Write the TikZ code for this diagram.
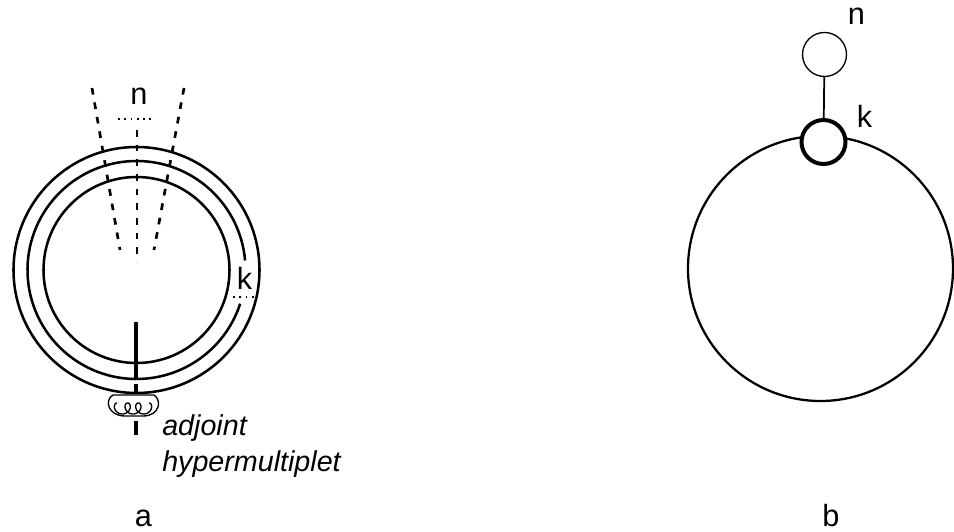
\documentclass[tikz,border=0pt]{standalone}
\usepackage{fontspec}
\setmainfont{Liberation Sans}
\usetikzlibrary{calc}
\begin{document}
\begin{tikzpicture}[x=0.75pt,y=0.75pt,
  ring/.style={line width=1.9pt},
  dashln/.style={line width=2pt, dash pattern=on 5pt off 6pt},
  dotln/.style={line width=1.6pt, dash pattern=on 1.3pt off 3.4pt},
  lbl/.style={font=\fontsize{23}{27}\selectfont, inner sep=0pt, anchor=base},
  itl/.style={font=\fontsize{21.5}{25}\selectfont\itshape, inner sep=0pt, anchor=base west},
  thin/.style={line width=1pt},
  smallcirc/.style={circle, draw, fill=white, minimum size=33pt, inner sep=0pt}]
\useasboundingbox (0,0) rectangle (954,532);
% ---------- figure a ----------
\coordinate (c) at (136.5,262);
\draw[ring] (c) circle[radius=123];
\draw[ring] (c) circle[radius=93];
\draw[ring] ($(c)+(5:109)$) arc[start angle=5, end angle=342, radius=109];
% dashed lines
\coordinate (dc1) at (137,402); \coordinate (dc2) at (137,270);
\coordinate (dl1) at (92,444);  \coordinate (dl2) at (120,282);
\coordinate (dr1) at (184,444); \coordinate (dr2) at (154,282);
\draw[dashln] (dc1) -- (dc2);
\draw[dashln] (dl1) -- (dl2);
\draw[dashln] (dr1) -- (dr2);
% n label and dotted line
\node[lbl] (na) at (139,427) {n};
\coordinate (dn1) at (118,413); \coordinate (dn2) at (155,413);
\draw[dotln] (dn1) -- (dn2);
% k label and dotted line
\node[lbl] (ka) at (244.5,242) {k};
\coordinate (dk1) at (233,235); \coordinate (dk2) at (255,235);
\draw[dotln] (dk1) -- (dk2);
% vertical line
\coordinate (v1) at (136,210); \coordinate (v2) at (136,154);
\coordinate (v3) at (136,148); \coordinate (v4) at (136,139);
\coordinate (v5) at (136,111); \coordinate (v6) at (136,97);
\draw[line width=2.4pt] (v1) -- (v2);
\draw[line width=2.4pt] (v3) -- (v4);
\draw[line width=2.4pt] (v5) -- (v6);
% blob with loops
\draw[thin] (113,137) .. controls (104,132) and (108,116) .. (125,116) -- (143,116)
  .. controls (160,116) and (162,132) .. (154,137) -- cycle;
\draw[thin] plot[domain=0:18.85, samples=180, smooth, variable=\t]
  ({117+1.7*\t-5*sin(\t r)}, {123.5+5.5*cos(\t r)});
% text
\node[itl] (adj) at (162,96) {adjoint};
\node[itl] (hyp) at (162,60) {hypermultiplet};
\node[lbl] (la) at (143.5,5) {a};
% ---------- figure b ----------
\draw[line width=1.7pt] (820.5,263.5) circle[radius=132.5];
\node[smallcirc, line width=1pt] (nb) at (824.5,477.5) {};
\node[smallcirc, line width=3pt] (kb) at (823.5,390) {};
\draw[line width=1.3pt] (nb) -- (kb);
\node[lbl] (nlb) at (856.5,507) {n};
\node[lbl] (klb) at (864.5,404) {k};
\node[lbl] (lb) at (831,5) {b};
\end{tikzpicture}
\end{document}
